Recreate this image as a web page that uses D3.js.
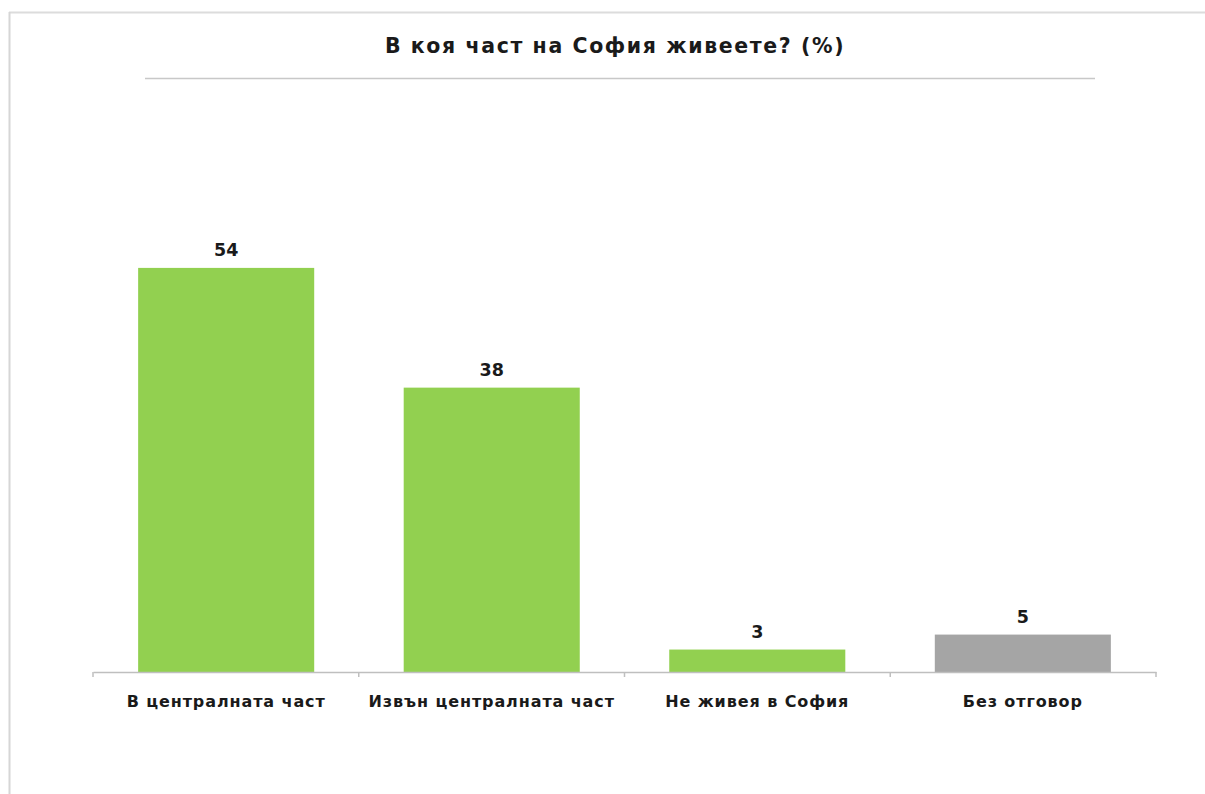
<!DOCTYPE html>
<html><head><meta charset="utf-8">
<script src="https://cdn.jsdelivr.net/npm/d3@7"></script>
<style>body{margin:0;background:#fff;} svg{display:block;}</style>
</head><body>
<svg id="chart" width="1205" height="794"></svg>
<script>
const categories = ["В централната част", "Извън централната част", "Не живея в София", "Без отговор"];
const values = [54, 38, 3, 5];
const colors = ["#92d050", "#92d050", "#92d050", "#a5a5a5"];
const title = "В коя част на София живеете? (%)";

const svg = d3.select("#chart");
const font = "'DejaVu Sans', Verdana, sans-serif";

// frame lines
svg.append("line").attr("x1",9).attr("x2",1205).attr("y1",12.5).attr("y2",12.5).attr("stroke","#dcdcdc").attr("stroke-width",2);
svg.append("line").attr("x1",9.5).attr("x2",9.5).attr("y1",12).attr("y2",794).attr("stroke","#d6d6d6").attr("stroke-width",2);

svg.append("text").attr("x",615).attr("y",53).attr("text-anchor","middle")
  .attr("font-family",font).attr("font-weight","bold").attr("font-size",20.5).attr("letter-spacing",1.6)
  .attr("fill","#1a1a1a").text(title);
svg.append("line").attr("x1",145).attr("x2",1095).attr("y1",78.5).attr("y2",78.5).attr("stroke","#c8c8c8").attr("stroke-width",1.5);

const x = d3.scaleBand().domain(categories).range([93,1156]).paddingInner(0.337).paddingOuter(0.17);
const y = d3.scaleLinear().domain([0,60]).range([672,223]);

svg.selectAll("rect.bar").data(values).join("rect").attr("class","bar")
  .attr("x",(d,i)=>x(categories[i])).attr("width",x.bandwidth())
  .attr("y",d=>y(d)).attr("height",d=>y(0)-y(d)).attr("fill",(d,i)=>colors[i]);

const axis = svg.append("g").attr("transform","translate(0,672)")
  .call(d3.axisBottom(x).tickSize(0).tickFormat(""));
axis.select(".domain").attr("stroke","#bfbfbf").attr("stroke-width",1.5);
// tick marks at band boundaries
const bounds = [0,1,2,3,4].map(i=>93 + i*(1156-93)/4);
svg.selectAll("line.tk").data(bounds).join("line").attr("class","tk")
  .attr("x1",d=>d).attr("x2",d=>d).attr("y1",672).attr("y2",677).attr("stroke","#bfbfbf").attr("stroke-width",1.5);

svg.selectAll("text.cat").data(categories).join("text").attr("class","cat")
  .attr("x",d=>x(d)+x.bandwidth()/2).attr("y",707).attr("text-anchor","middle")
  .attr("font-family",font).attr("font-weight","bold").attr("font-size",16).attr("letter-spacing",0.9)
  .attr("fill","#1a1a1a").text(d=>d);

svg.selectAll("text.val").data(values).join("text").attr("class","val")
  .attr("x",(d,i)=>x(categories[i])+x.bandwidth()/2).attr("y",d=>y(d)-12).attr("text-anchor","middle")
  .attr("font-family",font).attr("font-weight","bold").attr("font-size",17.5).attr("fill","#1a1a1a").text(d=>d);
</script>
</body></html>
